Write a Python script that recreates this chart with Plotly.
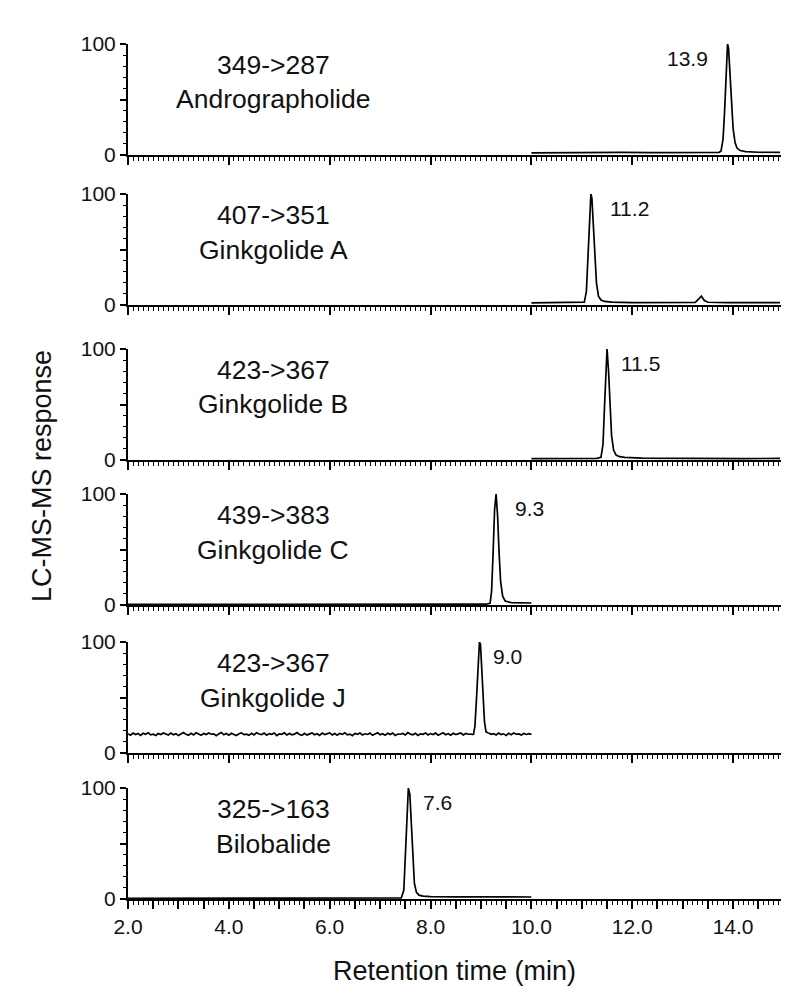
import plotly.graph_objects as go

# panel texts
transitions = ["349->287", "407->351", "423->367", "439->383", "423->367", "325->163"]
compounds = ["Andrographolide", "Ginkgolide A", "Ginkgolide B", "Ginkgolide C", "Ginkgolide J", "Bilobalide"]
peak_labels = ["13.9", "11.2", "11.5", "9.3", "9.0", "7.6"]

# x axis ticks (min)
x_tickvals = [2.0, 2.5, 3.0, 3.5, 4.0, 4.5, 5.0, 5.5, 6.0, 6.5, 7.0, 7.5, 8.0,
              8.5, 9.0, 9.5, 10.0, 10.5, 11.0, 11.5, 12.0, 12.5, 13.0, 13.5, 14.0, 14.5]
x_ticktext = ["2.0", "", "", "", "4.0", "", "", "", "6.0", "", "", "", "8.0",
              "", "", "", "10.0", "", "", "", "12.0", "", "", "", "14.0", ""]

# chromatograms: retention time (min) / relative response (%)
andro_t = [10.0, 10.6, 11.2, 11.8, 12.4, 13.0, 13.5, 13.72, 13.76, 13.8, 13.83, 13.86, 13.89, 13.91,
           13.94, 13.97, 14.0, 14.04, 14.08, 14.14, 14.25, 14.5, 14.7, 14.93]
andro_y = [2.0, 2.3, 2.0, 2.4, 2.1, 2.3, 2.2, 2.4, 3.5, 14, 38, 75, 100, 96,
           72, 45, 24, 11, 6, 4, 3, 2.5, 2.2, 2.3]

gka_t = [10.0, 10.5, 10.9, 11.05, 11.09, 11.12, 11.15, 11.18, 11.2, 11.23, 11.26, 11.29, 11.33, 11.38,
         11.45, 11.6, 12.0, 12.5, 13.0, 13.25, 13.31, 13.37, 13.43, 13.5, 13.9, 14.4, 14.93]
gka_y = [2.0, 2.2, 2.1, 2.6, 12, 42, 82, 100, 96, 74, 44, 20, 8, 4.5,
         3.2, 2.6, 2.2, 2.4, 2.1, 2.4, 5, 8, 4, 2.5, 2.2, 2.3, 2.1]

gkb_t = [10.0, 10.5, 11.0, 11.3, 11.38, 11.42, 11.45, 11.48, 11.5, 11.53, 11.56, 11.59, 11.63, 11.68,
         11.75, 11.85, 12.2, 12.8, 13.5, 14.2, 14.93]
gkb_y = [1.2, 1.4, 1.3, 1.5, 2.5, 14, 48, 88, 100, 80, 48, 22, 9, 4.5,
         3, 2.3, 1.6, 1.4, 1.5, 1.3, 1.4]

gkc_t = [2.0, 4.0, 6.0, 8.0, 9.1, 9.18, 9.21, 9.24, 9.27, 9.3, 9.33, 9.36, 9.39, 9.43,
         9.48, 9.6, 9.8, 10.0]
gkc_y = [0.5, 0.5, 0.6, 0.5, 0.7, 1.5, 12, 46, 86, 100, 80, 46, 21, 8,
         3.5, 2.2, 2.0, 1.8]

# ginkgolide J: noisy baseline sampled every 0.05 min from 2.00 min, peak, then baseline from 9.15 min
gkj_noise_a = [17.2, 16.1, 18.0, 16.6, 17.5, 15.9, 17.8, 16.9, 18.3, 16.4, 17.0, 15.8, 17.6, 16.7, 18.1, 17.3, 16.2, 17.9, 16.5, 17.4,
               15.7, 17.1, 18.4, 16.8, 16.0, 17.7, 16.3, 18.2, 17.0, 15.9, 17.5, 16.6, 18.0, 16.9, 17.3, 15.6, 17.2, 18.5, 16.4, 17.6,
               16.1, 17.8, 16.7, 15.8, 17.4, 18.1, 16.5, 17.0, 15.9, 17.7, 16.3, 18.3, 17.1, 16.6, 17.9, 16.0, 17.5, 16.8, 18.0, 15.7,
               17.3, 16.9, 18.2, 16.2, 17.6, 16.4, 17.0, 18.4, 16.7, 15.9, 17.8, 16.1, 17.2, 18.0, 16.5, 17.4, 15.8, 17.9, 16.6, 17.1,
               18.1, 16.3, 17.5, 16.0, 17.7, 16.8, 18.3, 16.4, 17.0, 15.6, 17.6, 16.9, 18.0, 16.2, 17.3, 16.7, 17.9, 15.9, 17.2, 18.2,
               16.5, 17.4, 16.1, 17.8, 16.6, 18.0, 15.8, 17.1, 16.9, 17.6, 16.3, 18.4, 17.0, 16.4, 17.7, 15.9, 17.3, 16.8, 18.1, 16.2,
               17.5, 16.7, 17.9, 16.0, 17.2, 18.2, 16.5, 17.4, 16.1, 17.8, 16.6, 17.0, 18.0, 16.3, 17.6, 16.9, 17.1, 16.4]
gkj_peak_t = [8.85, 8.88, 8.91, 8.94, 8.97, 8.99, 9.01, 9.04, 9.07, 9.1, 9.15]
gkj_peak_y = [16.4, 24, 48, 80, 100, 98, 80, 50, 28, 19, 18.0]
gkj_noise_b = [18.0, 16.8, 17.5, 16.2, 17.9, 16.6, 17.3, 15.9, 17.7, 16.5, 18.1, 16.9, 17.2, 16.1, 17.6, 16.7, 17.4, 16.8]

bilo_t = [2.0, 4.0, 6.0, 7.0, 7.42, 7.47, 7.5, 7.53, 7.56, 7.59, 7.62, 7.65, 7.68, 7.72,
          7.77, 7.85, 8.0, 8.5, 9.0, 9.5, 10.0]
bilo_y = [0.5, 0.6, 0.5, 0.7, 1.0, 8, 38, 80, 100, 94, 62, 32, 14, 6,
          3.5, 2.6, 2.2, 2.0, 1.9, 2.0, 1.8]

# label positions inside each panel (data units)
peak_label_x = [13.55, 11.52, 11.74, 9.64, 9.2, 7.81]
peak_label_anchor = ["right", "left", "left", "left", "left", "left"]

W, H = 800, 999
panel_bottom_px = [147, 297, 452, 597, 745, 891]
panel_height_px = 111
line = dict(color="black", width=1.7)
font = "Arial, Liberation Sans, sans-serif"

fig = go.Figure()

segments = [
    (andro_t, andro_y),
    (gka_t, gka_y),
    (gkb_t, gkb_y),
    (gkc_t, gkc_y),
    (gkj_peak_t, gkj_peak_y),
    (bilo_t, bilo_y),
]

for i, (t, y) in enumerate(segments):
    xs = "x" if i == 0 else f"x{i+1}"
    ys = "y" if i == 0 else f"y{i+1}"
    fig.add_trace(go.Scatter(x=t, y=y, mode="lines", line=line, xaxis=xs, yaxis=ys,
                             showlegend=False, hoverinfo="skip"))

# noisy baseline of ginkgolide J
fig.add_trace(go.Scatter(y=gkj_noise_a, x0=2.0, dx=0.05, mode="lines", line=line,
                         xaxis="x5", yaxis="y5", showlegend=False, hoverinfo="skip"))
fig.add_trace(go.Scatter(y=gkj_noise_b, x0=9.15, dx=0.05, mode="lines", line=line,
                         xaxis="x5", yaxis="y5", showlegend=False, hoverinfo="skip"))

layout = dict(
    width=W, height=H, template="none",
    plot_bgcolor="white", paper_bgcolor="white",
    margin=dict(l=120, r=27, t=0, b=0),
    showlegend=False,
    font=dict(family=font, color="#111"),
)

annotations = []
for i in range(6):
    bottom = panel_bottom_px[i]
    top = bottom - panel_height_px
    k = "" if i == 0 else str(i + 1)
    layout[f"xaxis{k}"] = dict(
        domain=[0, 1], range=[2.0, 14.95], anchor=f"y{k}",
        showline=True, linecolor="black", linewidth=2,
        showgrid=False, zeroline=False, automargin=False,
        ticks="outside", ticklen=8, tickwidth=1.5, tickcolor="black",
        tickmode="array", tickvals=x_tickvals, ticktext=x_ticktext,
        showticklabels=(i == 5), tickfont=dict(size=21, color="#111"),
        minor=dict(ticks="outside", tickmode="linear", tick0=2.0, dtick=0.1,
                   ticklen=4, tickwidth=1, tickcolor="black", showgrid=False),
    )
    layout[f"yaxis{k}"] = dict(
        domain=[1 - bottom / H, 1 - top / H], range=[0, 100], anchor=f"x{k}",
        showline=True, linecolor="black", linewidth=2,
        showgrid=False, zeroline=False, automargin=False,
        ticks="outside", ticklen=6, tickwidth=1.5, tickcolor="black",
        tickmode="array", tickvals=[0, 50, 100], ticktext=["0", "", "100"],
        tickfont=dict(size=21, color="#111"),
        minor=dict(ticks="outside", tickmode="linear", tick0=0, dtick=10,
                   ticklen=3, tickwidth=1, tickcolor="black", showgrid=False),
    )
    xr = "x" if i == 0 else f"x{i+1}"
    yr = "y" if i == 0 else f"y{i+1}"
    annotations.append(dict(x=4.88, y=81, xref=xr, yref=yr, text=transitions[i], showarrow=False,
                            xanchor="center", yanchor="middle", font=dict(size=26.5, color="#111")))
    annotations.append(dict(x=4.88, y=50, xref=xr, yref=yr, text=compounds[i], showarrow=False,
                            xanchor="center", yanchor="middle", font=dict(size=26.5, color="#111")))
    annotations.append(dict(x=peak_label_x[i], y=87, xref=xr, yref=yr, text=peak_labels[i], showarrow=False,
                            xanchor=peak_label_anchor[i], yanchor="middle", font=dict(size=21, color="#111")))

annotations.append(dict(x=(34 - 120) / 653, y=1 - 468 / H, xref="paper", yref="paper",
                        text="LC-MS-MS response", textangle=-90, showarrow=False,
                        xanchor="center", yanchor="middle", font=dict(size=27, color="#111")))
annotations.append(dict(x=0.5, y=1 - 963 / H, xref="paper", yref="paper",
                        text="Retention time (min)", showarrow=False,
                        xanchor="center", yanchor="middle", font=dict(size=27, color="#111")))
layout["annotations"] = annotations

fig.update_layout(**layout)
fig.write_html("out.html")
